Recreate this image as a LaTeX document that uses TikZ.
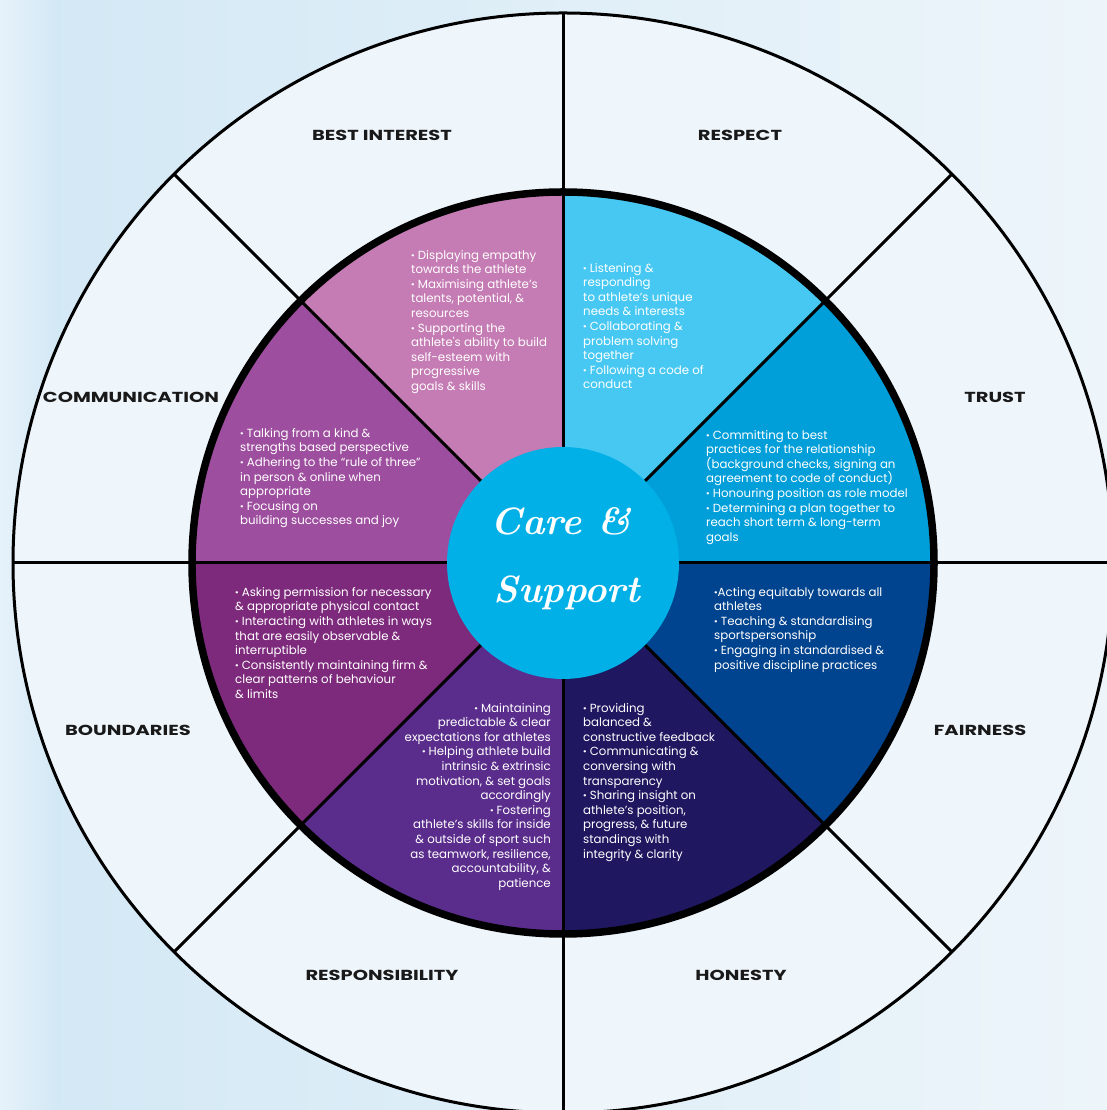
\documentclass[tikz,border=0pt]{standalone}
\usepackage{fontspec}
\newfontfamily\poppins{Poppins}
\usetikzlibrary{calc}
\definecolor{bgA}{HTML}{D2E8F5}
\definecolor{bgB}{HTML}{EDF5FA}
\definecolor{bgL}{HTML}{E6F2FA}
\definecolor{ring}{HTML}{EEF5FB}
\definecolor{segBI}{HTML}{C57BB3}
\definecolor{segRE}{HTML}{47C8F2}
\definecolor{segTR}{HTML}{009FDA}
\definecolor{segFA}{HTML}{00438E}
\definecolor{segHO}{HTML}{1F1760}
\definecolor{segRS}{HTML}{5A2D8C}
\definecolor{segBO}{HTML}{7E2A7C}
\definecolor{segCO}{HTML}{9E4E9E}
\definecolor{ctr}{HTML}{00B0E6}
\tikzset{
  lbl/.style={inner sep=0pt, text=black!90, font=\poppins\bfseries\fontsize{14.5}{16}\selectfont},
  body/.style={inner sep=0pt, text=white, align=left, anchor=north west,
    font=\poppins\fontsize{11.8}{14.6}\selectfont},
  bodyr/.style={body, align=right, anchor=north east},
  spoke/.style={line width=3pt, black},
  script/.style={inner sep=0pt, text=white, anchor=base, font=\rmfamily\bfseries\itshape\fontsize{38}{42}\selectfont}
}
\newcommand{\wlbl}[1]{\scalebox{1.34}[1]{#1}}
\newcommand{\bul}{{\bfseries ·}}
\begin{document}
\begin{tikzpicture}[x=1pt,y=1pt]
\useasboundingbox (0,0) rectangle (1107,1110);
\clip (0,0) rectangle (1107,1110);
% background
\shade[left color=bgA, right color=bgB] (0,0) rectangle (1107,1110);
\shade[left color=bgL, right color=bgA] (0,0) rectangle (60,1110);
\coordinate (C) at (563,547);
% outer ring
\fill[ring] (C) circle[radius=550];
% sectors
\foreach \a/\c in {90/segBI, 45/segRE, 0/segTR, -45/segFA, -90/segHO, -135/segRS, 180/segBO, 135/segCO}
  \fill[\c] (C) -- ++(\a:371) arc[start angle=\a, delta angle=45, radius=371] -- cycle;
% spokes
\foreach \a in {90, 0, 45, 135}
  \draw[spoke] (C) ++(\a:550) -- ++(\a+180:1100);
% circles
\draw[line width=7.5pt] (C) circle[radius=371];
\draw[line width=3pt] (C) circle[radius=550];
\fill[ctr] (C) circle[radius=116];
% centre title
\node[script] (care) at (561,575) {Care \&};
\node[script] (support) at (567,507) {Support};
% outer labels
\node[lbl] (lBI) at (382,975) {\wlbl{BEST INTEREST}};
\node[lbl] (lRE) at (740,975) {\wlbl{RESPECT}};
\node[lbl] (lTR) at (995,713) {\wlbl{TRUST}};
\node[lbl] (lFA) at (980,380) {\wlbl{FAIRNESS}};
\node[lbl] (lHO) at (741,135) {\wlbl{HONESTY}};
\node[lbl] (lRS) at (382,135) {\wlbl{RESPONSIBILITY}};
\node[lbl] (lBO) at (128,380) {\wlbl{BOUNDARIES}};
\node[lbl] (lCO) at (131,713) {\wlbl{COMMUNICATION}};
% body texts
\node[body] (tBI) at (411,860) {\bul{} Displaying empathy\\towards the athlete\\\bul{} Maximising athlete’s\\talents, potential, \&\\resources\\\bul{} Supporting the\\athlete's ability to build\\self-esteem with\\progressive\\goals \& skills};
\node[body] (tRE) at (583,847) {\bul{} Listening \&\\responding\\to athlete’s unique\\needs \& interests\\\bul{} Collaborating \&\\problem solving\\together\\\bul{} Following a code of\\conduct};
\node[body] (tTR) at (706,680) {\bul{} Committing to best\\practices for the relationship\\(background checks, signing an\\agreement to code of conduct)\\\bul{} Honouring position as role model\\\bul{} Determining a plan together to\\reach short term \& long-term\\goals};
\node[body] (tCO) at (240,682) {\bul{} Talking from a kind \&\\strengths based perspective\\\bul{} Adhering to the “rule of three”\\in person \& online when\\appropriate\\\bul{} Focusing on\\building successes and joy};
\node[body] (tBO) at (235,523) {\bul{} Asking permission for necessary\\\& appropriate physical contact\\\bul{} Interacting with athletes in ways\\that are easily observable \&\\interruptible\\\bul{} Consistently maintaining firm \&\\clear patterns of behaviour\\\& limits};
\node[body] (tFA) at (714,523) {\bul{}Acting equitably towards all\\athletes\\\bul{} Teaching \& standardising\\sportspersonship\\\bul{} Engaging in standardised \&\\positive discipline practices};
\node[bodyr] (tRS) at (551,407) {\bul{} Maintaining\\predictable \& clear\\expectations for athletes\\\bul{} Helping athlete build\\intrinsic \& extrinsic\\motivation, \& set goals\\accordingly\\\bul{} Fostering\\athlete’s skills for inside\\\& outside of sport such\\as teamwork, resilience,\\accountability, \&\\patience};
\node[body] (tHO) at (583,407) {\bul{} Providing\\balanced \&\\constructive feedback\\\bul{} Communicating \&\\conversing with\\transparency\\\bul{} Sharing insight on\\athlete’s position,\\progress, \& future\\standings with\\integrity \& clarity};
\end{tikzpicture}
\end{document}
